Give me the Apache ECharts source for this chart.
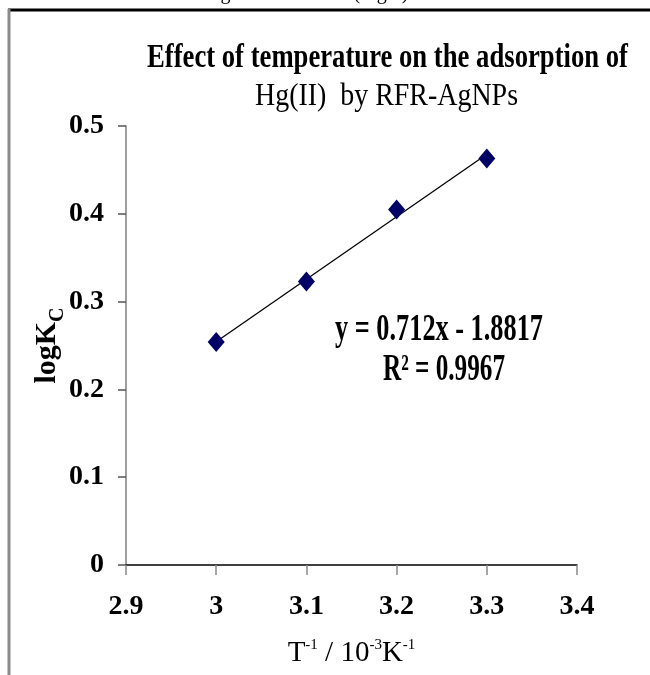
<!DOCTYPE html>
<html><head><meta charset="utf-8">
<script src="https://cdn.jsdelivr.net/npm/echarts@6/dist/echarts.min.js"></script>
<style>html,body{margin:0;padding:0;background:#fff}#c{width:650px;height:675px}</style>
</head><body><div id="c"></div>
<script>
// ---- data ----
const xValues = [3.0, 3.1, 3.2, 3.3];
const yValues = [0.254, 0.323, 0.405, 0.463];
const trendX = [3.0, 3.3];
const trendY = [0.2543, 0.4679];
const titleLines = ['Effect of temperature on the adsorption of', 'Hg(II)  by RFR-AgNPs'];
const equationLines = ['y = 0.712x - 1.8817', 'R\u00b2 = 0.9967'];
const topTextLeft = 'ion scheme';
const topTextRight = 'log K\u1d04 versus 1/T (Fig.4).';

const SERIF = '"Liberation Serif", "Times New Roman", serif';
const ctx = document.createElement('canvas').getContext('2d');
function fitScale(text, font, target) { ctx.font = font; return target / ctx.measureText(text).width; }

function scaledText(text, font, cx, cy, targetW) {
  const s = fitScale(text, font, targetW);
  return { type: 'text', x: cx, y: cy, scaleX: s, z: 10,
    style: { text: text, font: font, fill: '#000', align: 'center', verticalAlign: 'middle',
             textAlign: 'center', textVerticalAlign: 'middle' } };
}

const chart = echarts.init(document.getElementById('c'), null, { renderer: 'canvas' });
const f1 = 'bold 34px ' + SERIF, f2 = 'normal 31px ' + SERIF, fe = 'bold 37px ' + SERIF;

chart.setOption({
  backgroundColor: '#ffffff',
  animation: false,
  grid: { left: 126, right: 73, top: 126, bottom: 110, containLabel: false },
  xAxis: {
    type: 'value', min: 2.9, max: 3.4, interval: 0.1,
    name: '{n|T}{s|-1}{n| / 10}{s|-3}{n|K}{s|-1}',
    nameLocation: 'middle', nameGap: 73, nameMoveOverlap: false,
    nameTextStyle: { rich: {
      n: { fontFamily: SERIF, fontSize: 29, color: '#000', lineHeight: 30, verticalAlign: 'bottom' },
      s: { fontFamily: SERIF, fontSize: 15, color: '#000', lineHeight: 30, verticalAlign: 'top' }
    } },
    axisLine: { onZero: false, lineStyle: { color: '#000', width: 1.5 } },
    axisTick: { show: true, length: 10, lineStyle: { color: '#8a8a8a', width: 1.5 } },
    axisLabel: { margin: 28, color: '#000', fontFamily: SERIF, fontWeight: 'bold', fontSize: 28 },
    splitLine: { show: false }
  },
  yAxis: {
    type: 'value', min: 0, max: 0.5, interval: 0.1,
    name: '{n|logK}{c|C}',
    nameLocation: 'middle', nameGap: 58, nameMoveOverlap: false,
    nameTextStyle: { rich: {
      n: { fontFamily: SERIF, fontWeight: 'bold', fontSize: 30, color: '#000', lineHeight: 36, verticalAlign: 'top' },
      c: { fontFamily: SERIF, fontWeight: 'bold', fontSize: 20, color: '#000', lineHeight: 36, verticalAlign: 'bottom' }
    } },
    axisLine: { show: true, onZero: false, lineStyle: { color: '#7f7f7f', width: 1.5 } },
    axisTick: { show: true, length: 8, lineStyle: { color: '#555', width: 1.5 } },
    axisLabel: { margin: 22, color: '#000', fontFamily: SERIF, fontWeight: 'bold', fontSize: 28 },
    splitLine: { show: false }
  },
  series: [
    { type: 'line', data: trendX.map((x, i) => [x, trendY[i]]), symbol: 'none',
      lineStyle: { color: '#000', width: 1.3 }, z: 2, silent: true },
    { type: 'scatter', data: xValues.map((x, i) => [x, yValues[i]]), symbol: 'diamond',
      symbolSize: [17, 20], itemStyle: { color: '#000066', opacity: 1 }, z: 3 }
  ],
  graphic: [
    { type: 'text', x: -2, y: 4, z: 1, style: { text: topTextLeft, font: 'normal 20px ' + SERIF, fill: '#000', align: 'left', verticalAlign: 'bottom', textAlign: 'left', textVerticalAlign: 'bottom' } },
    { type: 'text', x: 205, y: 4, z: 1, style: { text: topTextRight, font: 'normal 20px ' + SERIF, fill: '#000', align: 'left', verticalAlign: 'bottom', textAlign: 'left', textVerticalAlign: 'bottom' } },
    { type: 'rect', shape: { x: 8, y: 10, width: 660, height: 700 }, z: 0, style: { fill: '#fff' } },
    { type: 'line', shape: { x1: 8, y1: 10, x2: 650, y2: 10 }, z: 5, style: { stroke: '#000', lineWidth: 3 } },
    { type: 'line', shape: { x1: 9, y1: 9, x2: 9, y2: 675 }, z: 5, style: { stroke: '#8a8a8a', lineWidth: 3 } },
    scaledText(titleLines[0], f1, 387.5, 58.5, 481),
    scaledText(titleLines[1], f2, 386.5, 97, 263),
    scaledText(equationLines[0], fe, 439, 330, 208),
    scaledText(equationLines[1], fe, 444, 370, 122)
  ]
});
</script></body></html>
